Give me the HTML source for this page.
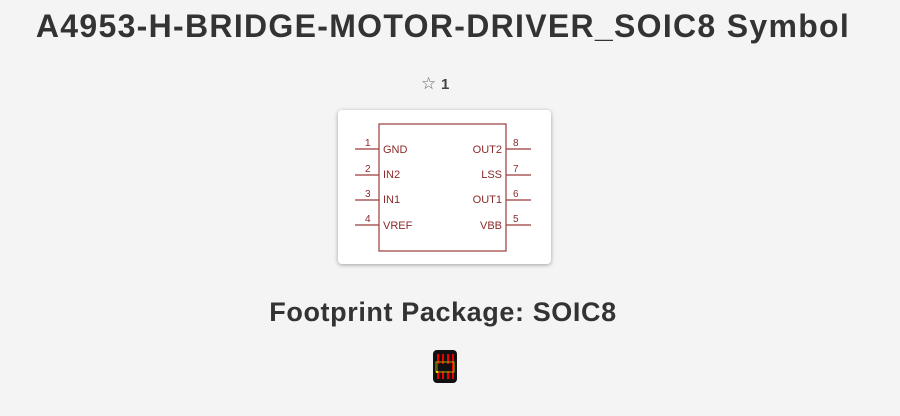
<!DOCTYPE html>
<html><head><style>
body{margin:0;width:900px;height:416px;background:#f4f4f4;font-family:"Liberation Sans",sans-serif;color:#333;position:relative;overflow:hidden}
.t{position:absolute;left:0;width:886px;text-align:center;font-weight:bold;white-space:nowrap}
</style></head><body>
<div class="t" style="top:8px;font-size:32px;letter-spacing:1.3px">A4953-H-BRIDGE-MOTOR-DRIVER_SOIC8 Symbol</div>
<div style="position:absolute;left:421px;top:74px;font-size:17px;color:#666">☆ <b style="color:#444;font-size:15px">1</b></div>
<div style="position:absolute;left:338px;top:110px;width:213px;height:154px;background:#fff;border-radius:4px;box-shadow:0 1px 4px rgba(0,0,0,.35)"></div>
<svg style="position:absolute;left:0;top:0" width="900" height="416" font-family="Liberation Sans,sans-serif" font-size="11" fill="#8b2a2a">
<rect x="379" y="124" width="127" height="127" fill="none" stroke="#9b3a3a" stroke-width="1.2"/>
<g stroke="#9b3a3a" stroke-width="1.2">
<line x1="355" y1="149" x2="379" y2="149"/><line x1="355" y1="175" x2="379" y2="175"/><line x1="355" y1="200" x2="379" y2="200"/><line x1="355" y1="225" x2="379" y2="225"/>
<line x1="506" y1="149" x2="531" y2="149"/><line x1="506" y1="175" x2="531" y2="175"/><line x1="506" y1="200" x2="531" y2="200"/><line x1="506" y1="225" x2="531" y2="225"/>
</g>
<g font-size="10"><text x="365" y="146">1</text><text x="365" y="172">2</text><text x="365" y="197">3</text><text x="365" y="222">4</text>
<text x="513" y="146">8</text><text x="513" y="172">7</text><text x="513" y="197">6</text><text x="513" y="222">5</text></g>
<text x="383" y="153">GND</text><text x="383" y="178">IN2</text><text x="383" y="203">IN1</text><text x="383" y="229">VREF</text>
<g text-anchor="end"><text x="502" y="153">OUT2</text><text x="502" y="178">LSS</text><text x="502" y="203">OUT1</text><text x="502" y="229">VBB</text></g>
<rect x="433" y="350" width="24" height="33" rx="4" fill="#111"/>
<g stroke="#e00" stroke-width="2"><line x1="438" y1="354" x2="438" y2="379"/><line x1="443" y1="354" x2="443" y2="379"/><line x1="448" y1="354" x2="448" y2="379"/><line x1="453" y1="354" x2="453" y2="379"/></g>
<rect x="436" y="362" width="18" height="10" fill="none" stroke="#aa0" stroke-width="1"/>
<rect x="438" y="364" width="14" height="7" fill="#111"/>
<circle cx="437" cy="372" r="1" fill="#ff0"/>
</svg>
<div class="t" style="top:297px;font-size:27px;letter-spacing:0.6px">Footprint Package: SOIC8</div>
</body></html>
